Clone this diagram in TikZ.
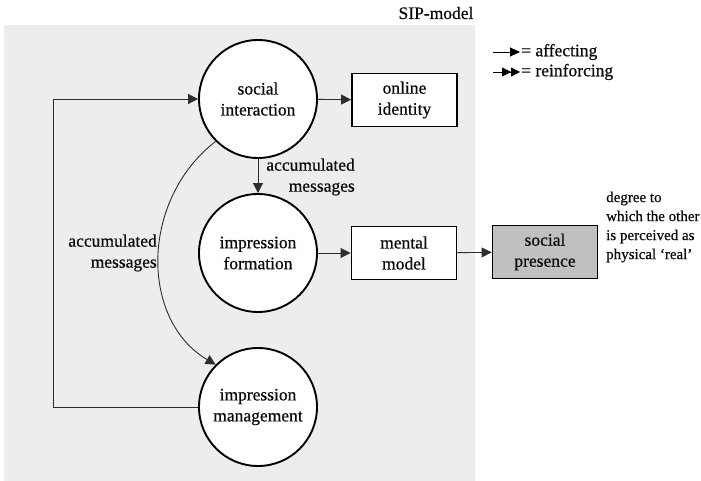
\documentclass[tikz,border=0pt]{standalone}
\usepackage{fontspec}
\setmainfont{Liberation Serif}[FakeBold=0.6]
\usetikzlibrary{arrows.meta}
\definecolor{bggray}{RGB}{237,237,237}
\definecolor{boxgray}{RGB}{192,192,192}
\definecolor{linegray}{RGB}{45,45,45}
\definecolor{txt}{RGB}{10,10,10}
\begin{document}
\begin{tikzpicture}[x=1pt,y=-1pt,
  every node/.style={text=txt,font=\fontsize{17.5}{21}\selectfont},
  proc/.style={circle,draw=black,line width=1.9pt,fill=white,minimum size=118pt,inner sep=0pt,align=center},
  objbox/.style={rectangle,draw=black,line width=1.9pt,fill=white,minimum width=105pt,minimum height=53pt,inner sep=0pt,align=center},
  conn/.style={draw=linegray,line width=0.9pt,-{Triangle[length=10pt,width=10pt]}},
  lbl/.style={align=right,inner sep=0pt}
]
\useasboundingbox (0,0) rectangle (701,481);
\fill[bggray] (4,25) rectangle (475,481);
\node (sip) at (436,13) {SIP-model};

% legend
\coordinate (la1) at (493,52);
\coordinate (lb1) at (520,52);
\coordinate (la2) at (493,72);
\coordinate (lb2) at (520,72);
\draw[draw=black,line width=0.9pt,-{Triangle[length=10pt,width=9pt]}] (la1) -- (lb1);
\draw[draw=black,line width=0.9pt,-{Triangle[length=9pt,width=9pt]Triangle[length=9pt,width=9pt]}] (la2) -- (lb2);
\node[anchor=west,inner sep=0pt] (leg1) at (521,52) {= affecting};
\node[anchor=west,inner sep=0pt] (leg2) at (521,72) {= reinforcing};

% nodes
\node[proc] (si) at (258,99) {social\\interaction};
\node[proc] (if) at (258,253) {impression\\formation};
\node[proc] (im) at (258,407) {impression\\management};
\node[objbox] (oi) at (404.5,100) {online\\identity};
\node[objbox] (mm) at (404,253) {mental\\model};
\node[objbox,fill=boxgray] (sp) at (545,252) {social\\presence};

% connectors
\draw[conn] (si) -- (oi);
\draw[conn] (si) -- (if);
\draw[conn] (if) -- (mm);
\draw[conn] (mm) -- (sp);
\draw[conn] (im.west) -- (53,407) -- (53,99) -- (si.west);
\draw[conn] (si.225) .. controls (140,200) and (140,320) .. (im.135);

% labels
\node[lbl,anchor=east] (acc1) at (355,177) {accumulated\\messages};
\node[lbl,anchor=east] (acc2) at (157,253) {accumulated\\messages};
\node[anchor=west,align=left,inner sep=0pt,font=\fontsize{15}{19}\selectfont] (deg) at (606,227) {degree to\\which the other\\is perceived as\\physical `real'};
\end{tikzpicture}
\end{document}
